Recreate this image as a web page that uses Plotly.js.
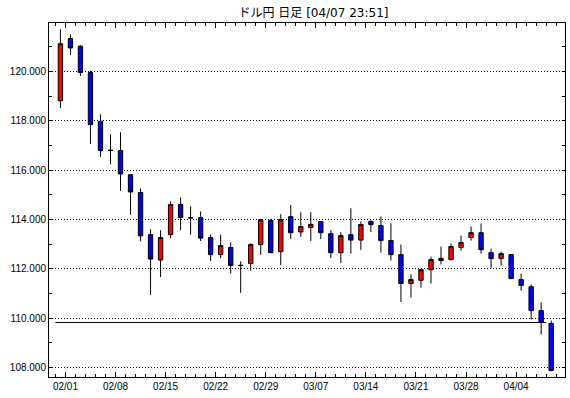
<!DOCTYPE html>
<html>
<head>
<meta charset="utf-8">
<script src="https://cdn.plot.ly/plotly-3.0.1.min.js"></script>
<style>
html,body{margin:0;padding:0;background:#fff;}
#chart{width:570px;height:398px;}
</style>
</head>
<body>
<div id="chart"></div>
<script>
// Daily USD/JPY candles
const dates = ['01/29','02/01','02/02','02/03','02/04','02/05','02/08','02/09','02/10','02/11',
  '02/12','02/15','02/16','02/17','02/18','02/19','02/22','02/23','02/24','02/25',
  '02/26','02/29','03/01','03/02','03/03','03/04','03/07','03/08','03/09','03/10',
  '03/11','03/14','03/15','03/16','03/17','03/18','03/21','03/22','03/23','03/24',
  '03/25','03/28','03/29','03/30','03/31','04/01','04/04','04/05','04/06','04/07'];
const openV = [118.82,121.34,121.03,119.96,117.99,116.80,116.80,115.82,115.10,113.39,
  112.36,113.39,114.61,114.08,114.08,113.27,112.58,112.87,112.15,112.22,
  112.99,113.96,112.70,114.12,113.50,113.68,113.92,113.43,112.66,113.39,
  113.17,113.92,113.76,113.15,112.58,111.41,111.54,111.97,112.34,112.38,
  112.87,113.27,113.47,112.66,112.42,112.58,111.57,111.28,110.31,109.79];
const highV = [121.71,121.51,121.07,120.04,118.27,117.46,117.54,115.84,115.26,113.61,
  113.57,114.74,114.90,114.54,114.33,113.40,113.40,113.08,112.31,113.04,
  114.02,114.02,114.22,114.59,114.30,114.30,113.94,113.57,113.49,114.46,
  113.92,114.00,114.13,113.85,112.99,111.78,112.01,112.50,112.91,113.03,
  113.35,113.72,113.84,112.82,112.70,112.60,111.81,111.37,110.64,109.91];
const lowV = [118.52,120.67,119.82,117.07,116.54,116.24,115.16,114.19,113.12,110.94,
  111.67,113.25,113.57,113.39,113.13,112.32,112.44,111.81,111.03,111.93,
  112.57,112.64,112.16,113.21,113.30,113.13,113.21,112.44,112.24,112.62,
  112.77,113.50,112.66,112.34,110.66,110.84,111.24,111.41,112.18,112.34,
  112.74,113.15,112.62,112.01,112.14,111.59,111.12,109.95,109.34,107.86];
const closeV = [121.13,120.96,119.96,117.85,116.80,116.81,115.85,115.12,113.34,112.40,
  113.27,114.61,114.08,114.07,113.25,112.58,112.95,112.14,112.14,112.99,
  114.00,112.66,114.00,113.47,113.72,113.81,113.47,112.66,113.35,113.17,
  113.80,113.80,113.15,112.58,111.41,111.57,111.97,112.38,112.43,112.91,
  113.07,113.47,112.78,112.42,112.62,111.61,111.33,110.31,109.83,107.88];
const weekLabels = ['02/01','02/08','02/15','02/22','02/29','03/07','03/14','03/21','03/28','04/04'];
const yTicks = [108,110,112,114,116,118,120];
const refLevel = 109.83;

const xIdx = dates.map((d, i) => i);
const tickPos = weekLabels.map(l => dates.indexOf(l) - 0.5);

const trace = {
  type: 'candlestick',
  x: xIdx, open: openV, high: highV, low: lowV, close: closeV,
  increasing: {line: {color: '#000000', width: 1}, fillcolor: '#FF0000'},
  decreasing: {line: {color: '#000000', width: 1}, fillcolor: '#0000FF'},
  whiskerwidth: 0,
  hoverinfo: 'none'
};

const layout = {
  width: 570, height: 398,
  margin: {l: 49, r: 5, t: 23, b: 21},
  paper_bgcolor: '#ffffff', plot_bgcolor: '#ffffff',
  showlegend: false,
  boxgap: 0.38,
  font: {family: 'Liberation Sans, Arial, sans-serif', size: 10, color: '#000'},
  title: {
    text: 'ドル円 日足 [04/07 23:51]',
    font: {family: 'DejaVu Sans, Noto Sans CJK JP, sans-serif', size: 12, color: '#000'},
    xref: 'container', x: 0.55, xanchor: 'center',
    yref: 'container', y: 0.968, yanchor: 'middle'
  },
  xaxis: {
    type: 'linear',
    range: [-1.14, 50.38],
    rangeslider: {visible: false},
    tickmode: 'array', tickvals: tickPos, ticktext: weekLabels,
    ticks: 'inside', ticklen: 5, tickcolor: '#000', tickwidth: 1,
    minor: {tickmode: 'linear', tick0: -0.5, dtick: 1, ticks: 'inside', ticklen: 3, tickcolor: '#000', showgrid: false},
    showline: true, linecolor: '#000', linewidth: 1, mirror: 'allticks',
    showgrid: false, zeroline: false, fixedrange: true
  },
  yaxis: {
    range: [107.62, 121.97],
    tickmode: 'array', tickvals: yTicks, tickformat: '.3f',
    ticks: 'inside', ticklen: 3, tickcolor: '#000', tickwidth: 1,
    minor: {tickmode: 'linear', tick0: 0, dtick: 1, ticks: 'inside', ticklen: 3, tickcolor: '#000', showgrid: false},
    showline: true, linecolor: '#000', linewidth: 1, mirror: 'allticks',
    showgrid: true, gridcolor: '#000', gridwidth: 1, griddash: '1px,2px',
    zeroline: false, fixedrange: true
  },
  shapes: [{
    type: 'line', xref: 'x', yref: 'y', layer: 'below',
    x0: -0.5, x1: 48.5, y0: refLevel, y1: refLevel,
    line: {color: '#000', width: 1}
  }]
};

Plotly.newPlot('chart', [trace], layout, {displayModeBar: false, staticPlot: true});
</script>
</body>
</html>
